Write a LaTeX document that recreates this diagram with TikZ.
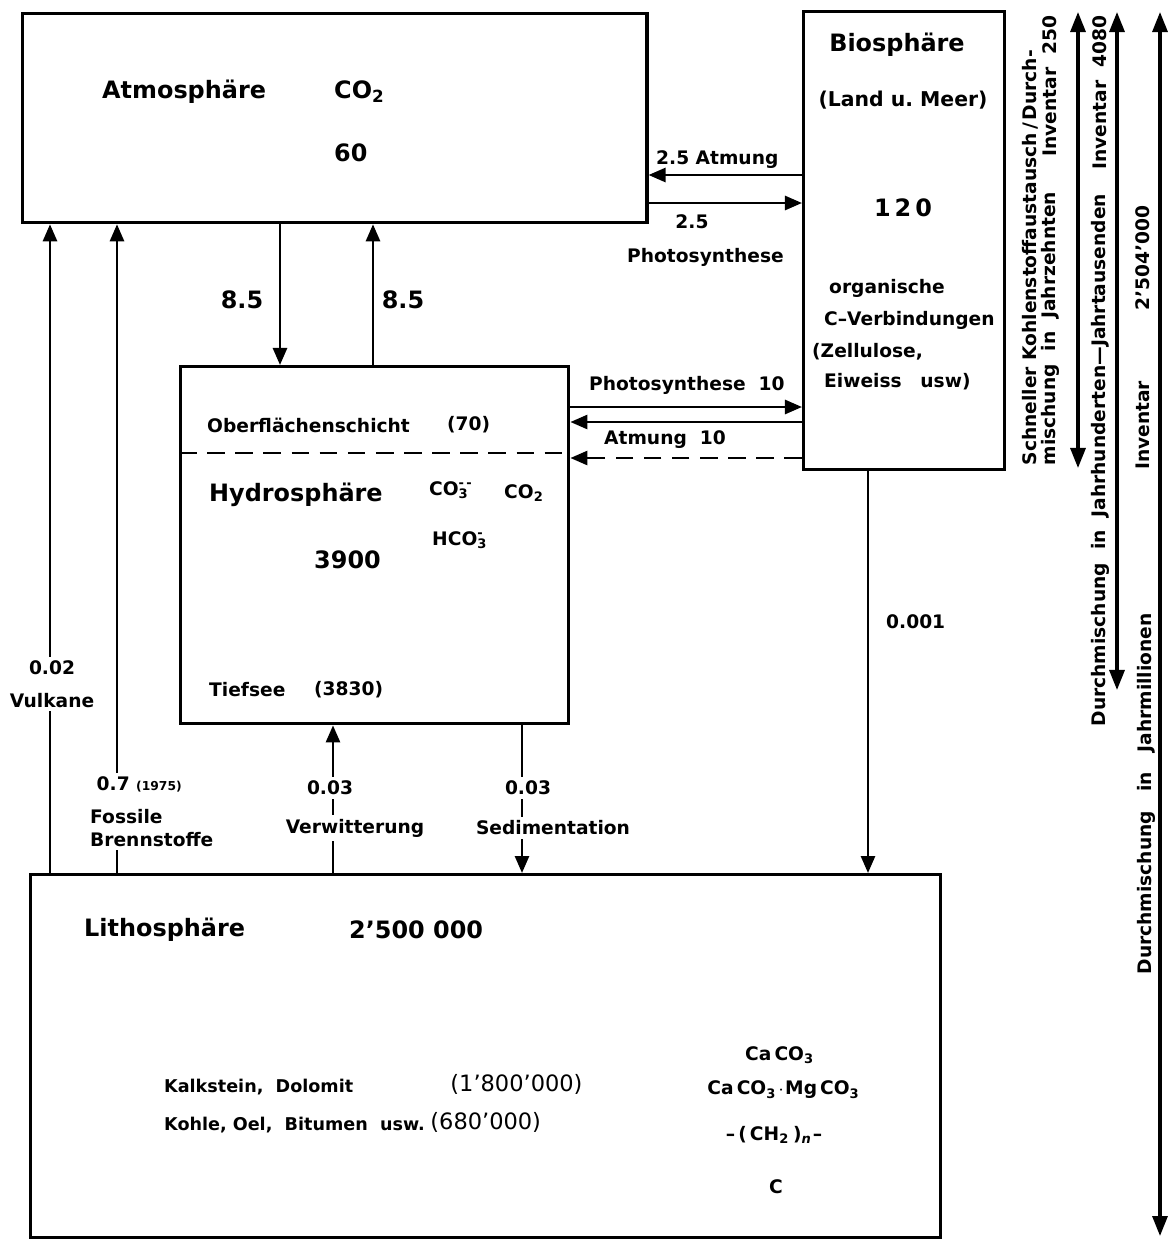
\documentclass[tikz,border=0pt]{standalone}
\usepackage{fontspec}
\setmainfont{DejaVu Sans}
\usetikzlibrary{arrows.meta, positioning, calc}

\newcommand{\ionidx}[2]{\makebox[0pt][l]{\textsubscript{#1}}\textsuperscript{#2}}

\tikzset{
  box/.style={draw, line width=0.9pt, inner sep=0pt, anchor=north west},
  flow/.style={line width=0.75pt, -{Triangle[length=1.7mm, width=1.4mm]}},
  span/.style={line width=0.9pt, {Triangle[length=2mm, width=1.5mm]}-{Triangle[length=2mm, width=1.5mm]}},
  bigtxt/.style={font=\fontsize{6.8}{8}\selectfont\bfseries, inner sep=1pt},
  smalltxt/.style={font=\fontsize{5.3}{6.5}\selectfont\bfseries, inner sep=1pt},
  littxt/.style={font=\fontsize{5.0}{6}\selectfont\bfseries, inner sep=1pt},
  lbl/.style={smalltxt, fill=white},
  sidetxt/.style={font=\fontsize{5.3}{6.5}\selectfont\bfseries, rotate=90, inner sep=0pt},
}

\begin{document}
\begin{tikzpicture}[x=0.01cm, y=-0.01cm]
  \useasboundingbox (0,0) rectangle (1168,1239);

  % the four reservoirs
  \node[box, minimum width=6.24cm, minimum height=2.09cm] (atm) at (21,12) {};
  \node[box, minimum width=2.01cm, minimum height=4.58cm] (bio) at (802,10) {};
  \node[box, minimum width=3.88cm, minimum height=3.57cm] (hyd) at (179,365) {};
  \node[box, minimum width=9.09cm, minimum height=3.63cm] (lit) at (29,873) {};

  % Atmosphaere
  \node[bigtxt, anchor=west] (atmname) at (98,92) {Atmosphäre};
  \node[bigtxt, anchor=west] (atmco) at (330,92) {CO\textsubscript{2}};
  \node[bigtxt, anchor=west] (atmval) at (330,153) {60};

  % Biosphaere
  \node[bigtxt] (bioname) at (897,45) {Biosphäre};
  \node[smalltxt, font=\fontsize{5.8}{7}\selectfont\bfseries] (bioloc) at (903,100) {(Land\ u.\ Meer)};
  \node[bigtxt] (bioval) at (903,208) {1\,2\,0};
  \foreach \x/\y/\t in {825/288/organische, 820/320/C--Verbindungen,
      808/352/{(Zellulose,}, 820/382/{Eiweiss\quad usw)}}
    \node[smalltxt, anchor=west] (org\y) at (\x,\y) {\t};

  % Hydrosphaere
  \node[smalltxt, anchor=west] (ofs) at (203,425) {Oberflächenschicht};
  \node[smalltxt, anchor=west] (ofsval) at (443,425) {(70)};
  \draw[line width=0.8pt, dash pattern=on 5pt off 3pt] (hyd.west |- 0,453) -- (hyd.east |- 0,453);
  \node[bigtxt, anchor=west] (hydname) at (205,495) {Hydrosphäre};
  \node[smalltxt, anchor=west] (hydco3) at (425,490) {CO\ionidx{3}{-\,-}};
  \node[smalltxt, anchor=west] (hydco2) at (500,493) {CO\textsubscript{2}};
  \node[smalltxt, anchor=west] (hydhco3) at (428,540) {HCO\ionidx{3}{-}};
  \node[bigtxt, anchor=west] (hydval) at (310,560) {3900};
  \node[smalltxt, anchor=west] (tief) at (205,690) {Tiefsee};
  \node[smalltxt, anchor=west] (tiefval) at (310,690) {(3830)};

  % Lithosphaere
  \node[bigtxt, anchor=west] (litname) at (80,930) {Lithosphäre};
  \node[bigtxt, anchor=west] (litval) at (345,930) {2'500 000};
  \node[littxt, anchor=west] (kalk) at (160,1087) {Kalkstein,\ \ Dolomit};
  \node[font=\fontsize{6.4}{7}\selectfont, anchor=west] (kalkval) at (438,1084) {(1'800'000)};
  \node[littxt, anchor=west] (kohle) at (160,1125) {Kohle,\ Oel,\ \ Bitumen\ \ usw.};
  \node[font=\fontsize{6.4}{7}\selectfont, anchor=west] (kohleval) at (418,1122) {(680'000)};
  \node[smalltxt] (calc) at (780,1055) {Ca\,CO\textsubscript{3}};
  \node[smalltxt] (dolo) at (784,1090) {Ca\,CO\textsubscript{3}$\cdot$Mg\,CO\textsubscript{3}};
  \node[smalltxt] (oil) at (774,1135) {--\,(\,CH\textsubscript{2}\,)\textsubscript{\textit{n}}--};
  \node[smalltxt] (coal) at (776,1187) {C};

  % Atmosphaere <-> Biosphaere
  \draw[flow] (bio.west |- 0,175) -- (atm.east |- 0,175);
  \draw[flow] (atm.east |- 0,203) -- (bio.west |- 0,203);
  \node[smalltxt, anchor=west] (atmung1) at (652,160) {2.5 Atmung};
  \node[smalltxt] (ps1val) at (692,222) {2.5};
  \node[smalltxt, anchor=west] (ps1) at (623,257) {Photosynthese};

  % Atmosphaere <-> Hydrosphaere
  \draw[flow] (atm.south -| 280,0) -- (hyd.north -| 280,0);
  \draw[flow] (hyd.north -| 373,0) -- (atm.south -| 373,0);
  \node[bigtxt] (down85) at (242,300) {8.5};
  \node[bigtxt] (up85) at (403,300) {8.5};

  % Hydrosphaere <-> Biosphaere
  \draw[flow] (hyd.east |- 0,407) -- (bio.west |- 0,407);
  \draw[flow] (bio.west |- 0,422) -- (hyd.east |- 0,422);
  \draw[flow, dash pattern=on 5pt off 3pt] (bio.west |- 0,458) -- (hyd.east |- 0,458);
  \node[smalltxt, anchor=west] (ps2) at (585,385) {Photosynthese\ \ 10};
  \node[smalltxt, anchor=west] (atmung2) at (600,440) {Atmung\ \ 10};

  % fluxes from the Lithosphaere
  \draw[flow] (lit.north -| 50,0) -- (atm.south -| 50,0);
  \node[lbl, align=center] (vulk) at (52,684) {0.02\\[3pt]Vulkane};
  \draw[flow] (lit.north -| 117,0) -- (atm.south -| 117,0);
  \node[lbl, anchor=north west, align=left] (foss) at (86,772)
    {\ 0.7 {\fontsize{3.5}{4}\selectfont(1975)}\\[3pt]Fossile\\Brennstoffe};
  \draw[flow] (lit.north -| 333,0) -- (hyd.south -| 333,0);
  \draw[flow] (hyd.south -| 522,0) -- (lit.north -| 522,0);
  \node[lbl] (verwval) at (330,788) {0.03};
  \node[lbl] (verw) at (355,828) {Verwitterung};
  \node[lbl] (sedval) at (528,788) {0.03};
  \node[lbl] (sed) at (553,828) {Sedimentation};

  % Biosphaere -> Lithosphaere
  \draw[flow] (bio.south -| 868,0) -- (lit.north -| 868,0);
  \node[smalltxt, anchor=west] (bioflux) at (882,622) {0.001};

  % time scales on the right
  \node[sidetxt, anchor=west] (fast1) at (1030,466) {Schneller\ Kohlenstoffaustausch\,/\,Durch-};
  \node[sidetxt, anchor=west] (fast2) at (1050,466) {mischung\ \ in\ \ Jahrzehnten};
  \node[sidetxt, anchor=east] (inv1) at (1050,15) {Inventar\ \ 250};
  \coordinate (fasttop) at (1078,12);
  \coordinate (fastbot) at (1078,468);
  \draw[span] (fasttop) -- (fastbot);

  \node[sidetxt, anchor=west] (mid1) at (1100,727) {Durchmischung\ \ in\ \ Jahrhunderten---Jahrtausenden};
  \node[sidetxt, anchor=east] (inv2) at (1100,15) {Inventar\ \ 4080};
  \coordinate (midtop) at (1117,12);
  \coordinate (midbot) at (1117,690);
  \draw[span] (midtop) -- (midbot);

  \node[sidetxt, anchor=west] (slow1) at (1146,975) {Durchmischung\ \ \ in\ \ \ Jahrmillionen};
  \node[sidetxt, anchor=east] (inv3) at (1143,205) {Inventar\hspace{20pt}2'504'000};
  \coordinate (slowtop) at (1160,12);
  \coordinate (slowbot) at (1160,1236);
  \draw[span] (slowtop) -- (slowbot);
\end{tikzpicture}
\end{document}
